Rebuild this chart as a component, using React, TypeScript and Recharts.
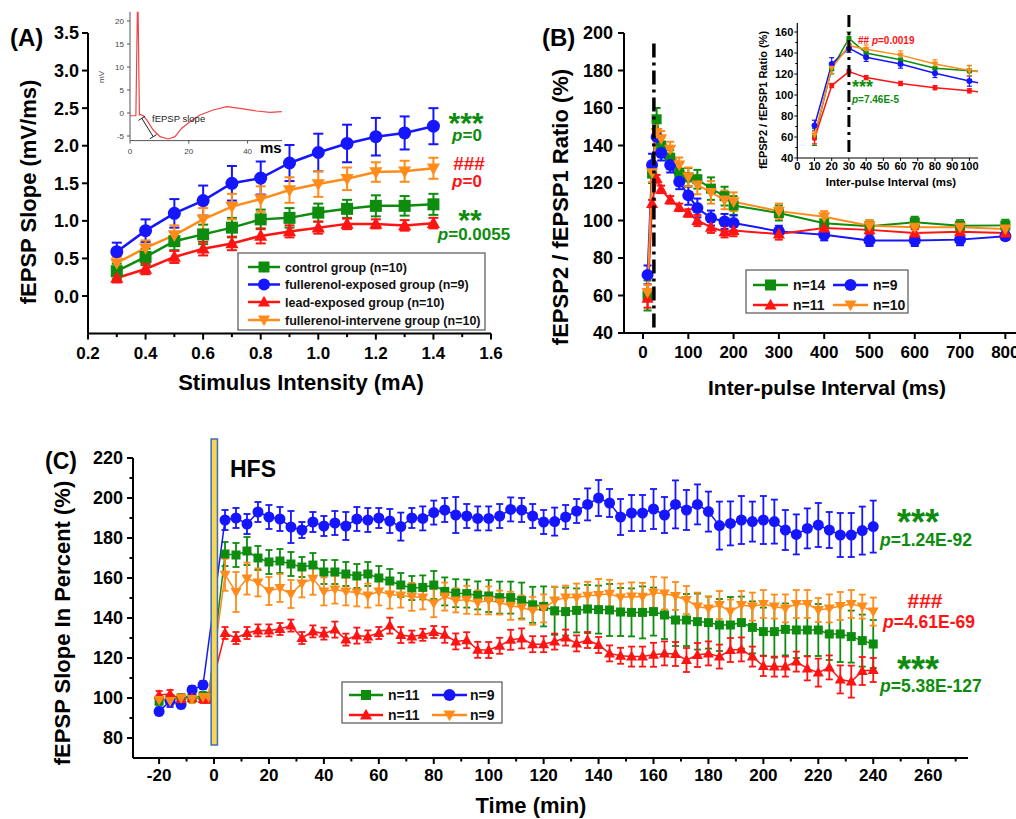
import React from 'react'
import { LineChart, Line, XAxis, YAxis, ErrorBar, ReferenceLine, ReferenceArea } from 'recharts'

const FONT = '"Liberation Sans", Arial, Helvetica, sans-serif'
const GREEN = '#0d8c0d'
const BLUE = '#1515ff'
const RED = '#ff1414'
const ORANGE = '#ff8c1a'

// ---- Panel A: input/output curve
const intensity = [0.3, 0.4, 0.5, 0.6, 0.7, 0.8, 0.9, 1.0, 1.1, 1.2, 1.3, 1.4]
const aControl = [0.33, 0.52, 0.73, 0.82, 0.91, 1.02, 1.04, 1.11, 1.16, 1.2, 1.2, 1.22]
const aControlErr = [0.1, 0.11, 0.12, 0.13, 0.13, 0.13, 0.13, 0.12, 0.12, 0.14, 0.13, 0.14]
const aFull = [0.59, 0.87, 1.1, 1.27, 1.5, 1.57, 1.77, 1.91, 2.03, 2.12, 2.17, 2.26]
const aFullErr = [0.12, 0.15, 0.19, 0.2, 0.23, 0.22, 0.24, 0.25, 0.25, 0.25, 0.22, 0.24]
const aLead = [0.24, 0.36, 0.52, 0.63, 0.7, 0.8, 0.86, 0.91, 0.96, 0.96, 0.94, 0.97]
const aLeadErr = [0.06, 0.07, 0.08, 0.09, 0.09, 0.1, 0.08, 0.08, 0.07, 0.06, 0.07, 0.07]
const aInter = [0.44, 0.64, 0.81, 1.02, 1.19, 1.29, 1.41, 1.49, 1.56, 1.65, 1.66, 1.7]
const aInterErr = [0.08, 0.1, 0.13, 0.15, 0.17, 0.17, 0.17, 0.17, 0.15, 0.13, 0.14, 0.14]
const aXTicks = [0.2, 0.3, 0.4, 0.5, 0.6, 0.7, 0.8, 0.9, 1.0, 1.1, 1.2, 1.3, 1.4, 1.5, 1.6]
const aYTicks = [0, 0.5, 1, 1.5, 2, 2.5, 3, 3.5]

// inset trace (ms, mV)
const traceMs = [0, 2.0, 2.5, 2.75, 3.2, 3.5, 4.5, 5.7, 7.9, 10.2, 13.0, 15.3, 17.6, 20.4, 23.8, 28.3, 32.9, 37.4, 43.1, 47.6, 51.6]
const traceMv = [-0.6, -0.6, 22, 22, -0.4, -0.3, -0.6, -1.5, -3.7, -5.15, -5.65, -5.15, -3.3, -1.9, -0.43, 0.65, 1.37, 1.0, 0.43, 0.15, 0.3]

// ---- Panel B: paired pulse ratio
const interval = [10, 20, 30, 40, 60, 80, 100, 120, 150, 180, 200, 300, 400, 500, 600, 700, 800]
const bGreen = [60, 125, 154, 140, 133.5, 125.5, 123, 122, 117, 113, 108, 104, 98.5, 97, 99, 97.2, 97.4]
const bGreenErr = [8, 5, 6, 4, 4, 5, 5, 5, 6, 5, 5, 4, 4, 3, 3, 3, 3]
const bBlue = [71, 129.6, 144.6, 136, 129.6, 120.7, 113.4, 106.7, 101.3, 99.5, 98.7, 94.2, 92.4, 89.4, 89.4, 89.8, 91.6]
const bBlueErr = [5, 6, 4, 4, 4, 4, 5, 5, 4, 4, 4, 3, 3, 3, 3, 3, 2]
const bRed = [58.5, 109, 122.3, 116.6, 111, 107, 104, 100, 96.4, 94, 94.6, 92.8, 96, 95, 93.3, 94, 93.3]
const bRedErr = [5, 2, 2, 2, 2, 2, 2, 3, 3, 3, 3, 3, 2, 2, 2, 2, 2]
const bOrange = [61.7, 125.5, 147, 143.7, 138, 129.6, 123.3, 119, 115, 111, 110, 105, 102, 97.2, 96.4, 96.4, 95.5]
const bOrangeErr = [4, 5, 5, 4, 4, 4, 5, 5, 6, 5, 5, 4, 3, 3, 3, 3, 3]
const bXTicks = [0, 100, 200, 300, 400, 500, 600, 700, 800]
const bYTicks = [40, 60, 80, 100, 120, 140, 160, 180, 200]
const insetXTicks = [0, 10, 20, 30, 40, 50, 60, 70, 80, 90, 100]
const insetYTicks = [40, 50, 60, 70, 80, 90, 100, 110, 120, 130, 140, 150, 160]

// ---- Panel C: LTP
const cTime = [-20, -16, -12, -8, -4, -2, 4, 8, 12, 16, 20, 24, 28, 32, 36, 40, 44, 48, 52, 56, 60, 64, 68, 72, 76, 80, 84, 88, 92, 96, 100, 104, 108, 112, 116, 120, 124, 128, 132, 136, 140, 144, 148, 152, 156, 160, 164, 168, 172, 176, 180, 184, 188, 192, 196, 200, 204, 208, 212, 216, 220, 224, 228, 232, 236, 240]
const cBlue = [93.3, 98.5, 96.8, 104, 106.5, null, 189, 190, 187, 193, 190.5, 189.5, 185.5, 184, 188, 186, 187.5, 186, 189.5, 189, 190, 188.5, 185.7, 190, 189.8, 192.7, 194, 191.5, 191, 189.8, 189.8, 191, 194.3, 194, 191, 188, 188.2, 190.5, 193.5, 196.8, 200, 197.5, 190.5, 192.5, 192.5, 194.5, 191.5, 196.8, 194, 196.8, 193.2, 186.2, 187.3, 189, 188.2, 189, 188.2, 184, 181.8, 184.8, 186.5, 184, 181.5, 181.5, 183.7, 185.7]
const cBlueErr = [2, 3, 2, 2, 2, 0, 5, 5, 5, 5, 6, 6, 8, 4, 5, 5, 6, 7, 6, 6, 5, 6, 7, 5, 6, 6, 6, 9, 6, 6, 6, 6, 6, 6, 6, 6, 7, 6, 6, 8, 9, 7, 9, 9, 9, 10, 9, 12, 10, 10, 10, 12, 11, 12, 10, 12, 11, 10, 10, 10, 11, 9, 11, 11, 12, 13]
const cGreen = [98.5, 99.5, 100, 100, 101, 100.5, 172, 171.5, 173.5, 170, 168, 168.5, 167, 165.5, 166.5, 163, 163, 162, 161, 162, 160, 158.5, 156.5, 155, 155.3, 156.5, 153.3, 152.4, 152.2, 151.3, 151, 150.2, 150.2, 148.7, 146.6, 145.8, 143.6, 143.2, 143.8, 144.5, 144.2, 144, 143, 142.8, 142.8, 143.2, 141.5, 139, 139, 138.2, 137.7, 136.5, 136.5, 137.7, 135.3, 133.2, 133.2, 134.3, 134, 134, 134, 132, 132, 130.7, 128.7, 127]
const cGreenErr = [2, 2, 2, 2, 2, 2, 6, 6, 7, 6, 6, 6, 6, 5, 6, 6, 6, 6, 6, 6, 6, 6, 6, 6, 6, 7, 7, 7, 7, 7, 8, 8, 8, 9, 9, 10, 12, 12, 11, 12, 12, 13, 12, 12, 13, 12, 12, 13, 13, 14, 13, 13, 14, 13, 13, 12, 13, 13, 14, 13, 13, 13, 14, 13, 13, 12]
const cRed = [101.5, 102, 99.5, 100, 99.5, 99.5, 132.5, 130, 132.5, 133.8, 133.8, 134.5, 136.2, 130, 133.3, 132.2, 134.2, 129.2, 131.2, 130.8, 132.5, 136.2, 131.5, 130.7, 131.6, 133, 131.6, 128.3, 128.9, 124.1, 124, 126.1, 129.1, 129.8, 126.9, 126.9, 128.2, 130.2, 127.3, 129, 126.5, 122.3, 121.1, 120.7, 120.7, 121.6, 122.3, 122, 119, 121.5, 122.3, 120.7, 124, 124.3, 120.7, 116, 115.7, 115.7, 118.2, 114.8, 112.7, 115.3, 109.3, 108.2, 113.5, 114]
const cRedErr = [2, 2, 2, 2, 2, 2, 3, 3, 3, 3, 3, 3, 3, 3, 3, 3, 4, 3, 4, 3, 3, 4, 4, 3, 3, 3, 4, 4, 4, 4, 4, 4, 5, 5, 4, 4, 4, 4, 4, 4, 4, 4, 4, 5, 5, 6, 6, 6, 6, 6, 6, 6, 6, 6, 5, 5, 5, 5, 5, 6, 7, 6, 7, 8, 7, 6]
const cOrange = [99, 98.5, 100, 99.5, 100.5, 100.5, 161.6, 153, 159.7, 157.8, 153.5, 155, 152, 157.3, 159.6, 153.3, 154.2, 153.3, 152.8, 151.2, 153.3, 151.7, 151.2, 150.6, 150.3, 147.4, 150.7, 148.8, 149.1, 147.8, 148.8, 147.7, 146.1, 145.2, 143.6, 144.8, 148.7, 150.2, 150.2, 151.1, 151.5, 152.1, 150.2, 150.8, 150.6, 152.6, 152.3, 151, 149, 145.7, 144.8, 146.5, 143.2, 146.5, 145.7, 147, 145.7, 144.8, 147, 147, 144, 144.8, 146, 147, 145.7, 143.2]
const cOrangeErr = [2, 2, 2, 2, 2, 2, 8, 10, 8, 7, 7, 7, 7, 7, 8, 7, 7, 7, 7, 6, 7, 7, 6, 7, 6, 7, 7, 6, 7, 6, 7, 6, 7, 6, 7, 7, 7, 6, 7, 7, 8, 7, 7, 7, 7, 8, 8, 7, 7, 7, 6, 7, 6, 7, 7, 7, 6, 7, 7, 7, 6, 7, 7, 7, 6, 7]
const cXTicks = [-20, -10, 0, 10, 20, 30, 40, 50, 60, 70, 80, 90, 100, 110, 120, 130, 140, 150, 160, 170, 180, 190, 200, 210, 220, 230, 240, 250, 260, 270]
const cYTicks = [80, 90, 100, 110, 120, 130, 140, 150, 160, 170, 180, 190, 200, 210, 220]

const aRows = intensity.map((x, i) => ({
  x,
  control: aControl[i], controlErr: aControlErr[i],
  full: aFull[i], fullErr: aFullErr[i],
  lead: aLead[i], leadErr: aLeadErr[i],
  inter: aInter[i], interErr: aInterErr[i],
}))
const traceRows = traceMs.map((t, i) => ({ t, mv: traceMv[i] }))
const bRows = interval.map((x, i) => ({
  x,
  green: bGreen[i], greenErr: bGreenErr[i],
  blue: bBlue[i], blueErr: bBlueErr[i],
  red: bRed[i], redErr: bRedErr[i],
  orange: bOrange[i], orangeErr: bOrangeErr[i],
}))
const cRows = cTime.map((t, i) => ({
  t,
  green: cGreen[i], greenErr: cGreenErr[i],
  blue: cBlue[i], blueErr: cBlueErr[i],
  red: cRed[i], redErr: cRedErr[i],
  orange: cOrange[i], orangeErr: cOrangeErr[i],
}))

type Shape = 'square' | 'circle' | 'triangle' | 'down'

function Marker({ shape, cx, cy, size, color }: { shape: Shape; cx: number; cy: number; size: number; color: string }) {
  const h = size / 2
  if (shape === 'square') return <rect x={cx - h} y={cy - h} width={size} height={size} fill={color} />
  if (shape === 'circle') return <circle cx={cx} cy={cy} r={h} fill={color} />
  if (shape === 'triangle')
    return <polygon points={`${cx},${cy - h * 1.15} ${cx + h * 1.1},${cy + h * 0.8} ${cx - h * 1.1},${cy + h * 0.8}`} fill={color} />
  return <polygon points={`${cx},${cy + h * 1.15} ${cx + h * 1.1},${cy - h * 0.8} ${cx - h * 1.1},${cy - h * 0.8}`} fill={color} />
}

const dotFor = (shape: Shape, color: string, size: number) => (props: any) => {
  const { cx, cy, index } = props
  if (cx == null || cy == null || isNaN(cy)) return <g key={`d${index}`} />
  return (
    <g key={`d${index}`}>
      <Marker shape={shape} cx={cx} cy={cy} size={size} color={color} />
    </g>
  )
}

interface TickOpts {
  orient: 'x' | 'y'
  isMajor: (v: number) => boolean
  fmt: (v: number) => string
  fontSize: number
  len: number
  minorLen: number
  offset: number
  color?: string
  textColor?: string
  sw?: number
  weight?: number
}

const axisTick = (o: TickOpts) => (props: any) => {
  const { x, y, payload } = props
  const v = payload.value
  const major = o.isMajor(v)
  const L = major ? o.len : o.minorLen
  const stroke = o.color || '#000'
  const common = { fontSize: o.fontSize, fontWeight: o.weight ?? 700, fontFamily: FONT, fill: o.textColor || '#000' }
  if (o.orient === 'x') {
    return (
      <g>
        <line x1={x} x2={x} y1={y} y2={y + L} stroke={stroke} strokeWidth={o.sw ?? 2} />
        {major && <text x={x} y={y + o.offset} textAnchor="middle" {...common}>{o.fmt(v)}</text>}
      </g>
    )
  }
  return (
    <g>
      <line x1={x - L} x2={x} y1={y} y2={y} stroke={stroke} strokeWidth={o.sw ?? 2} />
      {major && <text x={x - o.offset} y={y + o.fontSize * 0.36} textAnchor="end" {...common}>{o.fmt(v)}</text>}
    </g>
  )
}

function Txt({ x, y, size, fill = '#000', anchor = 'start', weight = 700, rotate = false, children, family = FONT }: any) {
  if (rotate)
    return (
      <text transform={`translate(${x},${y}) rotate(-90)`} textAnchor={anchor} fontSize={size} fontWeight={weight} fontFamily={family} fill={fill}>
        {children}
      </text>
    )
  return (
    <text x={x} y={y} textAnchor={anchor} fontSize={size} fontWeight={weight} fontFamily={family} fill={fill}>
      {children}
    </text>
  )
}

function LegendItem({ x1, x2, y, shape, color, size, label, tx, fs }: any) {
  return (
    <g>
      <line x1={x1} x2={x2} y1={y} y2={y} stroke={color} strokeWidth={2.5} />
      <Marker shape={shape} cx={(x1 + x2) / 2} cy={y} size={size} color={color} />
      <text x={tx} y={y + fs * 0.36} fontSize={fs} fontWeight={700} fontFamily={FONT} fill="#111">{label}</text>
    </g>
  )
}

const Pv = ({ x, y, size, fill, rest, anchor = 'start' }: any) => (
  <text x={x} y={y} textAnchor={anchor} fontSize={size} fontWeight={700} fontFamily={FONT} fill={fill}>
    <tspan fontStyle="italic">p</tspan>{rest}
  </text>
)

const ax2 = { stroke: '#000', strokeWidth: 2 }

export default function App() {
  return (
    <div style={{ position: 'absolute', left: 0, top: 0, width: 1016, height: 819, overflow: 'hidden', background: '#fff' }}>
      {/* Panel A */}
      <div style={{ position: 'absolute', left: 0, top: 0 }}>
        <LineChart width={520} height={400} data={aRows} margin={{ left: 48, right: 29, top: 33, bottom: 36.4 }}>
          <XAxis dataKey="x" type="number" domain={[0.2, 1.6]} ticks={aXTicks} interval={0} height={30} tickSize={0} tickMargin={0}
            axisLine={ax2} tickLine={false}
            tick={axisTick({ orient: 'x', isMajor: (v) => Math.round(v * 10) % 2 === 0, fmt: (v) => v.toFixed(1), fontSize: 17, len: 6, minorLen: 3.5, offset: 25 })} />
          <YAxis type="number" domain={[-0.5, 3.5]} ticks={aYTicks} interval={0} width={40} tickSize={0} tickMargin={0}
            axisLine={ax2} tickLine={false}
            tick={axisTick({ orient: 'y', isMajor: () => true, fmt: (v) => v.toFixed(1), fontSize: 18, len: 6, minorLen: 3, offset: 9 })} />
          <Line dataKey="control" stroke={GREEN} strokeWidth={2.5} dot={dotFor('square', GREEN, 12)} activeDot={false} isAnimationActive={false}>
            <ErrorBar dataKey="controlErr" width={5} strokeWidth={2} stroke={GREEN} direction="y" />
          </Line>
          <Line dataKey="full" stroke={BLUE} strokeWidth={2.5} dot={dotFor('circle', BLUE, 13)} activeDot={false} isAnimationActive={false}>
            <ErrorBar dataKey="fullErr" width={5} strokeWidth={2} stroke={BLUE} direction="y" />
          </Line>
          <Line dataKey="lead" stroke={RED} strokeWidth={2.5} dot={dotFor('triangle', RED, 12)} activeDot={false} isAnimationActive={false}>
            <ErrorBar dataKey="leadErr" width={5} strokeWidth={2} stroke={RED} direction="y" />
          </Line>
          <Line dataKey="inter" stroke={ORANGE} strokeWidth={2.5} dot={dotFor('down', ORANGE, 12)} activeDot={false} isAnimationActive={false}>
            <ErrorBar dataKey="interErr" width={5} strokeWidth={2} stroke={ORANGE} direction="y" />
          </Line>
        </LineChart>
      </div>

      {/* Panel A inset */}
      <div style={{ position: 'absolute', left: 100, top: 0 }}>
        <LineChart width={200} height={170} data={traceRows} margin={{ left: 10, right: 18, top: 11.8, bottom: 14.4 }}>
          <XAxis dataKey="t" type="number" domain={[0, 51.7]} ticks={[0, 20, 40]} interval={0} height={15} tickSize={0} tickMargin={0}
            axisLine={{ stroke: '#555', strokeWidth: 1 }} tickLine={false} allowDataOverflow
            tick={axisTick({ orient: 'x', isMajor: () => true, fmt: (v) => String(v), fontSize: 8, len: 3, minorLen: 2, offset: 13, color: '#555', textColor: '#444', sw: 1, weight: 400 })} />
          <YAxis type="number" domain={[-6, 22]} ticks={[-5, 0, 5, 10, 15, 20]} interval={0} width={20} tickSize={0} tickMargin={0}
            axisLine={{ stroke: '#555', strokeWidth: 1 }} tickLine={false} allowDataOverflow
            tick={axisTick({ orient: 'y', isMajor: () => true, fmt: (v) => String(v), fontSize: 8, len: 3, minorLen: 2, offset: 6, color: '#555', textColor: '#444', sw: 1, weight: 400 })} />
          <Line dataKey="mv" stroke="#ee4444" strokeWidth={1.2} dot={false} activeDot={false} isAnimationActive={false} type="linear" />
          <ReferenceLine segment={[{ x: 4.0, y: -1.15 }, { x: 7.9, y: -5.15 }]} stroke="#222" strokeWidth={1} ifOverflow="visible" />
          <ReferenceLine segment={[{ x: 2.85, y: -1.61 }, { x: 5.15, y: -0.69 }]} stroke="#222" strokeWidth={1} ifOverflow="visible" />
          <ReferenceLine segment={[{ x: 6.75, y: -5.61 }, { x: 9.05, y: -4.69 }]} stroke="#222" strokeWidth={1} ifOverflow="visible" />
        </LineChart>
      </div>

      {/* Panel B */}
      <div style={{ position: 'absolute', left: 530, top: 0 }}>
        <LineChart width={520} height={400} data={bRows} margin={{ left: 54, right: 22, top: 33, bottom: 37 }}>
          <XAxis dataKey="x" type="number" domain={[-42, 850]} ticks={bXTicks} interval={0} height={30} tickSize={0} tickMargin={0}
            axisLine={ax2} tickLine={false}
            tick={axisTick({ orient: 'x', isMajor: () => true, fmt: (v) => String(v), fontSize: 17, len: 6, minorLen: 3, offset: 25 })} />
          <YAxis type="number" domain={[40, 200]} ticks={bYTicks} interval={0} width={40} tickSize={0} tickMargin={0}
            axisLine={ax2} tickLine={false}
            tick={axisTick({ orient: 'y', isMajor: () => true, fmt: (v) => String(v), fontSize: 18, len: 6, minorLen: 3, offset: 11 })} />
          <Line dataKey="green" stroke={GREEN} strokeWidth={2} dot={dotFor('square', GREEN, 10)} activeDot={false} isAnimationActive={false}>
            <ErrorBar dataKey="greenErr" width={4} strokeWidth={2} stroke={GREEN} direction="y" />
          </Line>
          <Line dataKey="blue" stroke={BLUE} strokeWidth={2} dot={dotFor('circle', BLUE, 12)} activeDot={false} isAnimationActive={false}>
            <ErrorBar dataKey="blueErr" width={4} strokeWidth={2} stroke={BLUE} direction="y" />
          </Line>
          <Line dataKey="red" stroke={RED} strokeWidth={2} dot={dotFor('triangle', RED, 11)} activeDot={false} isAnimationActive={false}>
            <ErrorBar dataKey="redErr" width={4} strokeWidth={2} stroke={RED} direction="y" />
          </Line>
          <Line dataKey="orange" stroke={ORANGE} strokeWidth={2} dot={dotFor('down', ORANGE, 11)} activeDot={false} isAnimationActive={false}>
            <ErrorBar dataKey="orangeErr" width={4} strokeWidth={2} stroke={ORANGE} direction="y" />
          </Line>
          <ReferenceLine segment={[{ x: 24, y: 43 }, { x: 24, y: 196 }]} stroke="#000" strokeWidth={3.5} strokeDasharray="14 5 3 5" ifOverflow="visible" zIndex={2000} />
        </LineChart>
      </div>

      {/* Panel B inset */}
      <div style={{ position: 'absolute', left: 740, top: 0 }}>
        <LineChart width={260} height={200} data={bRows} margin={{ left: 27.3, right: 22, top: 23, bottom: 22 }}>
          <XAxis dataKey="x" type="number" domain={[0, 105]} ticks={insetXTicks} interval={0} height={20} tickSize={0} tickMargin={0}
            axisLine={{ stroke: '#000', strokeWidth: 1.2 }} tickLine={false} allowDataOverflow
            tick={axisTick({ orient: 'x', isMajor: () => true, fmt: (v) => String(v), fontSize: 11, len: 3, minorLen: 2, offset: 12, sw: 1 })} />
          <YAxis type="number" domain={[40, 168.6]} ticks={insetYTicks} interval={0} width={30} tickSize={0} tickMargin={0}
            axisLine={{ stroke: '#000', strokeWidth: 1.2 }} tickLine={false} allowDataOverflow
            tick={axisTick({ orient: 'y', isMajor: (v) => v % 20 === 0, fmt: (v) => String(v), fontSize: 11, len: 3, minorLen: 2, offset: 4, sw: 1 })} />
          <Line dataKey="green" stroke={GREEN} strokeWidth={1.5} dot={dotFor('square', GREEN, 5)} activeDot={false} isAnimationActive={false}>
            <ErrorBar dataKey="greenErr" width={2.5} strokeWidth={1.2} stroke={GREEN} direction="y" />
          </Line>
          <Line dataKey="blue" stroke={BLUE} strokeWidth={1.5} dot={dotFor('circle', BLUE, 6)} activeDot={false} isAnimationActive={false}>
            <ErrorBar dataKey="blueErr" width={2.5} strokeWidth={1.2} stroke={BLUE} direction="y" />
          </Line>
          <Line dataKey="red" stroke={RED} strokeWidth={1.5} dot={dotFor('circle', RED, 5)} activeDot={false} isAnimationActive={false}>
            <ErrorBar dataKey="redErr" width={2.5} strokeWidth={1.2} stroke={RED} direction="y" />
          </Line>
          <Line dataKey="orange" stroke={ORANGE} strokeWidth={1.5} dot={dotFor('down', ORANGE, 6)} activeDot={false} isAnimationActive={false}>
            <ErrorBar dataKey="orangeErr" width={2.5} strokeWidth={1.2} stroke={ORANGE} direction="y" />
          </Line>
          <ReferenceLine segment={[{ x: 30, y: 45.7 }, { x: 30, y: 181 }]} stroke="#000" strokeWidth={3} strokeDasharray="12 5 3 5" ifOverflow="visible" zIndex={2000} />
        </LineChart>
      </div>

      {/* Panel C */}
      <div style={{ position: 'absolute', left: 0, top: 400 }}>
        <LineChart width={1016} height={419} data={cRows} margin={{ left: 93, right: 48, top: 58, bottom: 31 }}>
          <XAxis dataKey="t" type="number" domain={[-29.5, 274.5]} ticks={cXTicks} interval={0} height={30} tickSize={0} tickMargin={0}
            axisLine={ax2} tickLine={false}
            tick={axisTick({ orient: 'x', isMajor: (v) => v % 20 === 0, fmt: (v) => String(v), fontSize: 17, len: 6, minorLen: 3.5, offset: 23 })} />
          <YAxis type="number" domain={[70, 220]} ticks={cYTicks} interval={0} width={40} tickSize={0} tickMargin={0}
            axisLine={ax2} tickLine={false}
            tick={axisTick({ orient: 'y', isMajor: (v) => v % 20 === 0, fmt: (v) => String(v), fontSize: 18, len: 6, minorLen: 3.5, offset: 10 })} />
          <Line dataKey="green" stroke={GREEN} strokeWidth={1.5} dot={dotFor('square', GREEN, 9)} activeDot={false} isAnimationActive={false}>
            <ErrorBar dataKey="greenErr" width={3.5} strokeWidth={1.8} stroke={GREEN} direction="y" />
          </Line>
          <Line dataKey="blue" stroke={BLUE} strokeWidth={1.5} dot={dotFor('circle', BLUE, 11)} activeDot={false} isAnimationActive={false} connectNulls>
            <ErrorBar dataKey="blueErr" width={3.5} strokeWidth={1.8} stroke={BLUE} direction="y" />
          </Line>
          <Line dataKey="red" stroke={RED} strokeWidth={1.5} dot={dotFor('triangle', RED, 10)} activeDot={false} isAnimationActive={false}>
            <ErrorBar dataKey="redErr" width={3.5} strokeWidth={1.8} stroke={RED} direction="y" />
          </Line>
          <Line dataKey="orange" stroke={ORANGE} strokeWidth={1.5} dot={dotFor('down', ORANGE, 10)} activeDot={false} isAnimationActive={false}>
            <ErrorBar dataKey="orangeErr" width={3.5} strokeWidth={1.8} stroke={ORANGE} direction="y" />
          </Line>
          <ReferenceArea x1={-1.05} x2={1.25} y1={76.5} y2={229.5} fill="#f7d65a" fillOpacity={1} stroke="#3d6fb0" strokeWidth={1.5} ifOverflow="visible" zIndex={2000} />
        </LineChart>
      </div>

      {/* Text, annotations, legends */}
      <svg width={1016} height={819} style={{ position: 'absolute', left: 0, top: 0, pointerEvents: 'none' }}>
        {/* A */}
        <Txt x={10} y={46} size={24}>(A)</Txt>
        <Txt x={36} y={192} size={22} anchor="middle" rotate>fEPSP Slope (mV/ms)</Txt>
        <Txt x={301} y={390} size={22} anchor="middle">Stimulus Intensity (mA)</Txt>
        <Txt x={466} y={133} size={30} anchor="middle" fill={GREEN}>***</Txt>
        <Pv x={467} y={141} size={17} fill={GREEN} rest="=0" anchor="middle" />
        <Txt x={469} y={170} size={19} anchor="middle" fill={RED}>###</Txt>
        <Pv x={467} y={187} size={17} fill={RED} rest="=0" anchor="middle" />
        <Txt x={470} y={230} size={30} anchor="middle" fill={GREEN}>**</Txt>
        <Pv x={474} y={240} size={17} fill={GREEN} rest="=0.0055" anchor="middle" />
        <Txt x={104} y={77} size={8} anchor="middle" weight={400} fill="#444" rotate>mV</Txt>
        <Txt x={260} y={153} size={15}>ms</Txt>
        <Txt x={152} y={122} size={9.5} weight={400} fill="#222">fEPSP slope</Txt>
        <rect x={238} y={253} width={247} height={77} fill="#fff" stroke="#555" strokeWidth={1.2} />
        <LegendItem x1={248} x2={280} y={267} shape="square" color={GREEN} size={11} label="control group (n=10)" tx={285} fs={12.5} />
        <LegendItem x1={248} x2={280} y={284.5} shape="circle" color={BLUE} size={12} label="fullerenol-exposed group (n=9)" tx={285} fs={12.5} />
        <LegendItem x1={248} x2={280} y={302} shape="triangle" color={RED} size={11} label="lead-exposed group (n=10)" tx={285} fs={12.5} />
        <LegendItem x1={248} x2={280} y={320} shape="down" color={ORANGE} size={11} label="fullerenol-intervene group (n=10)" tx={285} fs={12.5} />

        {/* B */}
        <Txt x={542} y={46} size={24}>(B)</Txt>
        <Txt x={568} y={207} size={22} anchor="middle" rotate>fEPSP2 / fEPSP1 Ratio (%)</Txt>
        <Txt x={827} y={395} size={21} anchor="middle">Inter-pulse Interval (ms)</Txt>
        <Txt x={767} y={100} size={11} anchor="middle" rotate>fEPSP2 / fEPSP1 Ratio (%)</Txt>
        <Txt x={891} y={186} size={11.5} anchor="middle">Inter-pulse Interval (ms)</Txt>
        <text x={858} y={44} fontSize={10} fontWeight={700} fontFamily={FONT} fill={RED}>## <tspan fontStyle="italic">p</tspan>=0.0019</text>
        <Txt x={852} y={93} size={18} fill={GREEN}>***</Txt>
        <Pv x={852} y={103} size={10} fill={GREEN} rest="=7.46E-5" />
        <rect x={746} y={270} width={162} height={43} fill="#fff" stroke="#555" strokeWidth={1.2} />
        <LegendItem x1={753} x2={788} y={285} shape="square" color={GREEN} size={11} label="n=14" tx={793} fs={14} />
        <LegendItem x1={833} x2={868} y={285} shape="circle" color={BLUE} size={12} label="n=9" tx={873} fs={14} />
        <LegendItem x1={753} x2={788} y={305} shape="triangle" color={RED} size={11} label="n=11" tx={793} fs={14} />
        <LegendItem x1={833} x2={868} y={305} shape="down" color={ORANGE} size={11} label="n=10" tx={873} fs={14} />

        {/* C */}
        <Txt x={45} y={469} size={23}>(C)</Txt>
        <Txt x={70} y={623} size={22} anchor="middle" rotate>fEPSP Slope In Percent (%)</Txt>
        <Txt x={531} y={813} size={22} anchor="middle">Time (min)</Txt>
        <Txt x={230} y={477} size={23}>HFS</Txt>
        <Txt x={918} y={535} size={36} anchor="middle" fill={GREEN}>***</Txt>
        <Pv x={880} y={546} size={17.5} fill={GREEN} rest="=1.24E-92" />
        <Txt x={925} y={608} size={21} anchor="middle" fill={RED}>###</Txt>
        <Pv x={883} y={628} size={17.5} fill={RED} rest="=4.61E-69" />
        <Txt x={918} y={682} size={36} anchor="middle" fill={GREEN}>***</Txt>
        <Pv x={880} y={692} size={17.5} fill={GREEN} rest="=5.38E-127" />
        <rect x={342} y={682} width={160} height={41} fill="#fff" stroke="#555" strokeWidth={1.2} />
        <LegendItem x1={349} x2={383} y={695} shape="square" color={GREEN} size={10} label="n=11" tx={388} fs={14} />
        <LegendItem x1={432} x2={467} y={695} shape="circle" color={BLUE} size={12} label="n=9" tx={470} fs={14} />
        <LegendItem x1={349} x2={383} y={715} shape="triangle" color={RED} size={11} label="n=11" tx={388} fs={14} />
        <LegendItem x1={432} x2={467} y={715} shape="down" color={ORANGE} size={11} label="n=9" tx={470} fs={14} />
      </svg>
    </div>
  )
}
